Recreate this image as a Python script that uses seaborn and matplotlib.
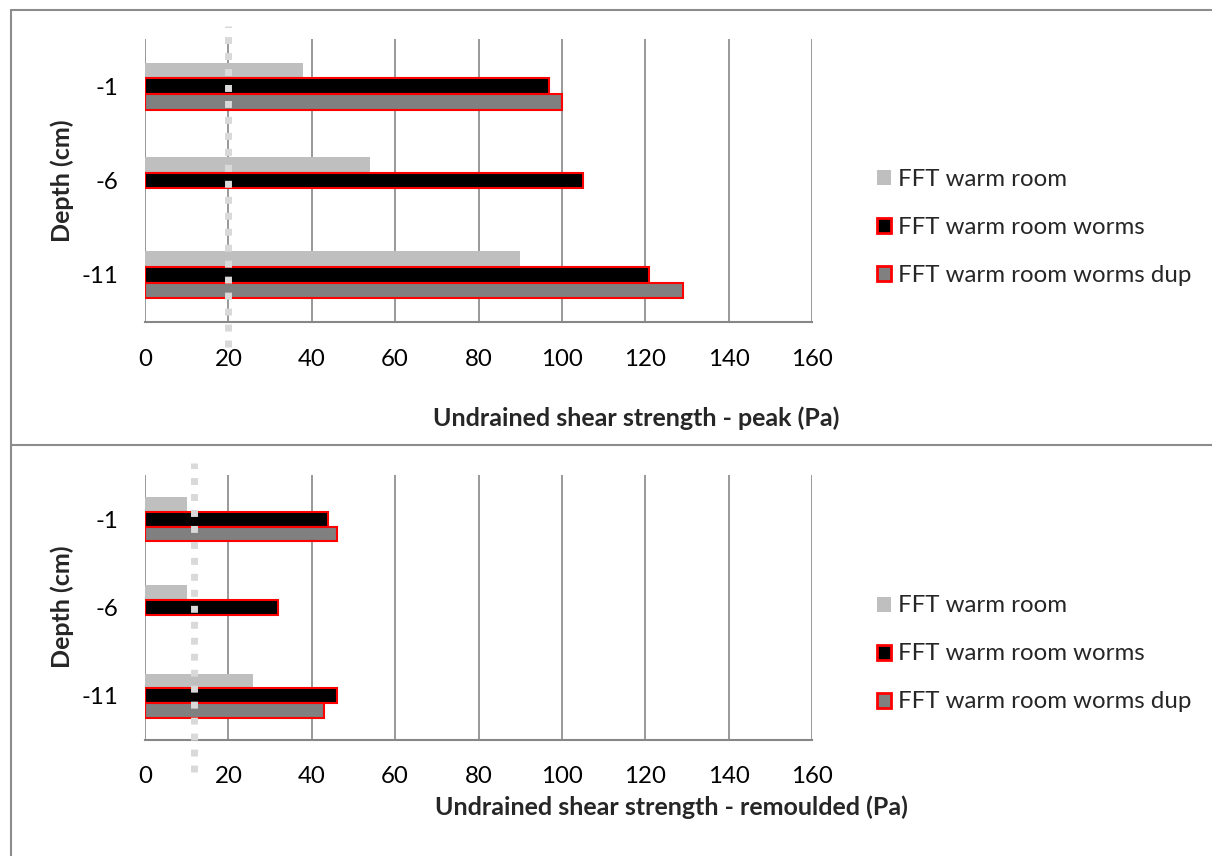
import numpy as np
import pandas as pd
import matplotlib
matplotlib.use("Agg")
import matplotlib.pyplot as plt
from matplotlib.patches import Patch
from matplotlib.lines import Line2D
import seaborn as sns

# ---------------- data ----------------
depths = ["-1", "-6", "-11"]
series = ["FFT warm room", "FFT warm room worms", "FFT warm room worms dup"]
peak_warm = [38, 54, 90]
peak_worms = [97, 105, 121]
peak_dup = [100, np.nan, 129]
rem_warm = [10, 10, 26]
rem_worms = [44, 32, 46]
rem_dup = [46, np.nan, 43]
peak_ref = 20
rem_ref = 11.7
xticks = [0, 20, 40, 60, 80, 100, 120, 140, 160]

fill_colors = ["#BFBFBF", "#000000", "#808080"]
edge_colors = ["none", "#FF0000", "#FF0000"]

sns.set_style("white")
plt.rcParams["font.family"] = ["Lato", "DejaVu Sans"]
FS = 17.3
LFS = 18
GRID = "#878787"


def make_df(a, b, c):
    rows = []
    for vals, s in zip([a, b, c], series):
        for d, v in zip(depths, vals):
            rows.append({"Depth": d, "Series": s, "Value": v})
    return pd.DataFrame(rows).dropna()


W, H = 1212, 856
fig = plt.figure(figsize=(W / 100, H / 100), dpi=100)


def px_axes(left, top, right, bottom):
    return fig.add_axes([left / W, 1 - bottom / H, (right - left) / W, (bottom - top) / H])


ax1 = px_axes(145, 39, 812, 322)
ax2 = px_axes(145, 475, 812, 740)

panels = [
    (ax1, make_df(peak_warm, peak_worms, peak_dup), peak_ref,
     "Undrained shear strength - peak (Pa)", 636, 418, 181, (-25 / 283, 1 + 13 / 283), 13.5, 227),
    (ax2, make_df(rem_warm, rem_worms, rem_dup), rem_ref,
     "Undrained shear strength - remoulded (Pa)", 671, 807, 607, (-32 / 265, 1 + 12 / 265), 12.5, 654),
]

for ax, df, ref, xlabel, xlx, xly, yly, vext, xpad, legy in panels:
    sns.barplot(data=df, x="Value", y="Depth", hue="Series", order=depths,
                hue_order=series, palette=fill_colors, orient="h", width=0.5,
                errorbar=None, ax=ax, legend=False, saturation=1)
    for cont, ec in zip(ax.containers, edge_colors):
        for p in cont:
            p.set_edgecolor(ec)
            p.set_linewidth(1.5 if ec != "none" else 0)
            p.set_zorder(3)
    ax.set_xlim(0, 160)
    ax.set_xticks(xticks)
    ax.set_xticklabels([str(t) for t in xticks], fontsize=FS)
    ax.set_yticks(range(len(depths)))
    ax.set_yticklabels(depths, fontsize=FS)
    ax.set_ylim(2.5, -0.5)
    ax.grid(axis="x", color=GRID, linewidth=1.2, zorder=0)
    ax.grid(axis="y", visible=False)
    ax.set_axisbelow(True)
    for s in ["top", "right", "left"]:
        ax.spines[s].set_visible(False)
    ax.spines["bottom"].set_color(GRID)
    ax.spines["bottom"].set_linewidth(1.5)
    ax.tick_params(axis="x", direction="out", length=6, width=1.2, color=GRID, pad=xpad, labelcolor="black")
    ax.tick_params(axis="y", length=0, pad=19, labelcolor="black")
    ax.set_ylabel("")
    ax.set_xlabel("")
    # reference dotted line
    ax.axvline(ref, ymin=vext[0], ymax=vext[1], color="#D9D9D9", linewidth=5,
               linestyle=(0, (1, 1.3)), dash_capstyle="butt", clip_on=False, zorder=5)
    fig.text(xlx / W, 1 - xly / H, xlabel, fontsize=LFS, fontweight="bold", ha="center", va="center")
    fig.text(62 / W, 1 - yly / H, "Depth (cm)", fontsize=LFS, fontweight="bold", rotation=90,
             ha="center", va="center")
    handles = [Patch(facecolor=fc, edgecolor=ec, linewidth=(2 if ec != "none" else 0))
               for fc, ec in zip(fill_colors, edge_colors)]
    fpx = FS * 100 / 72
    sq = 14 / fpx
    fig.legend(handles, series, loc="center left", bbox_to_anchor=(877 / W, 1 - legy / H),
               bbox_transform=fig.transFigure, frameon=False, fontsize=FS,
               handlelength=sq, handleheight=sq, handletextpad=0.3,
               labelspacing=(48 - 21) / fpx,
               borderpad=0, borderaxespad=0)

# chart frames
frame_c = "#8C8C8C"
fig.add_artist(Line2D([11 / W, 1], [1 - 10 / H, 1 - 10 / H], color=frame_c, linewidth=1.5, transform=fig.transFigure))
fig.add_artist(Line2D([11 / W, 11 / W], [0, 1 - 10 / H], color=frame_c, linewidth=1.5, transform=fig.transFigure))
fig.add_artist(Line2D([11 / W, 1], [1 - 445 / H, 1 - 445 / H], color=frame_c, linewidth=1.5, transform=fig.transFigure))

fig.savefig("out.png", dpi=100)
